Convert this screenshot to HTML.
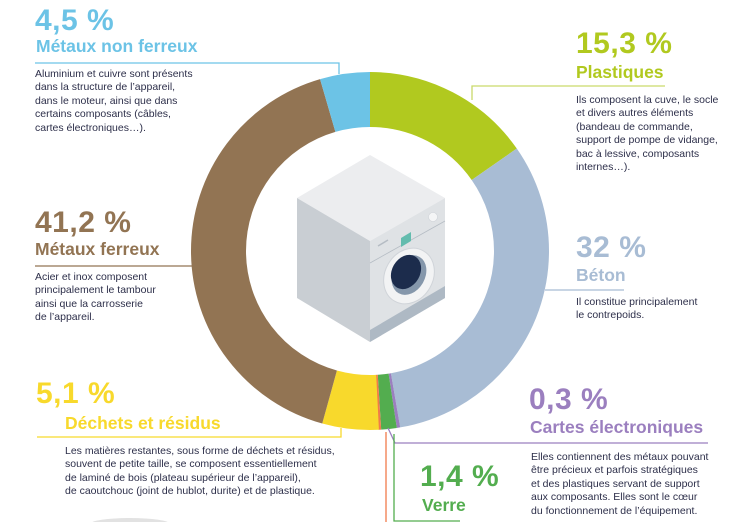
<!DOCTYPE html>
<html><head><meta charset="utf-8"><style>
html,body{margin:0;padding:0;background:#fff}
body{width:741px;height:522px;position:relative;overflow:hidden;font-family:"Liberation Sans",sans-serif}
.t{position:absolute;white-space:nowrap}
.p{font-size:30px;font-weight:bold;letter-spacing:0.5px;line-height:1}
.h{font-size:17.5px;font-weight:bold;line-height:1}
.b{font-size:10.5px;color:#2d2f4a;line-height:13.4px}
</style></head><body>
<svg width="741" height="522" style="position:absolute;left:0;top:0">
<g transform="rotate(-90 370 251)" fill="none" stroke-width="55">
<circle cx="370" cy="251" r="151.5" pathLength="100" stroke="#b1c91f" stroke-dasharray="15.3 84.7" stroke-dashoffset="0"/>
<circle cx="370" cy="251" r="151.5" pathLength="100" stroke="#a8bcd4" stroke-dasharray="32 68" stroke-dashoffset="-15.3"/>
<circle cx="370" cy="251" r="151.5" pathLength="100" stroke="#9b7fbf" stroke-dasharray="0.3 99.7" stroke-dashoffset="-47.3"/>
<circle cx="370" cy="251" r="151.5" pathLength="100" stroke="#53ad4f" stroke-dasharray="1.4 98.6" stroke-dashoffset="-47.6"/>
<circle cx="370" cy="251" r="151.5" pathLength="100" stroke="#f07b4a" stroke-dasharray="0.25 99.75" stroke-dashoffset="-49.0"/>
<circle cx="370" cy="251" r="151.5" pathLength="100" stroke="#f8d92c" stroke-dasharray="5.1 94.9" stroke-dashoffset="-49.2"/>
<circle cx="370" cy="251" r="151.5" pathLength="100" stroke="#927453" stroke-dasharray="41.2 58.8" stroke-dashoffset="-54.3"/>
<circle cx="370" cy="251" r="151.5" pathLength="100" stroke="#6cc3e6" stroke-dasharray="4.5 95.5" stroke-dashoffset="-95.5"/>
</g>
<g fill="none" stroke-width="1.3">
<polyline points="35,63 339,63 339,74" stroke="#6cc3e6"/>
<polyline points="35,266 193,266" stroke="#927453"/>
<polyline points="472,100 472,86 665,86" stroke="#c9d96a"/>
<polyline points="545,290 624,290" stroke="#a8bcd4"/>
<polyline points="37,437 341,437 341,428" stroke="#f8d92c"/>
<polyline points="388,428 395,443 708,443" stroke="#9b7fbf"/>
<polyline points="394,434 394,521 460,521" stroke="#53ad4f"/>
<polyline points="386,432 386,522" stroke="#f07b4a"/>
</g>
<polygon points="370,155 445,198 370,241 297,198" fill="#ecedef"/>
<polygon points="297,198 370,241 370,342 297,298" fill="#c9ced3"/>
<polygon points="370,241 445,198 445,298 370,342" fill="#dfe2e5"/>
<polygon points="370,330 445,286 445,298 370,342" fill="#aeb9c4"/>
<line x1="370" y1="263" x2="445" y2="221" stroke="#b5bcc4" stroke-width="0.8"/>
<polygon points="401,238 411,232 411,241 401,247" fill="#63bcae"/>
<circle cx="433" cy="217" r="4.5" fill="#f4f5f6" stroke="#cfd3d8" stroke-width="0.6"/>
<line x1="378" y1="246" x2="388" y2="240" stroke="#b5bcc4" stroke-width="1.5"/>
<ellipse cx="409" cy="276" rx="24" ry="29" transform="rotate(30 409 276)" fill="#f2f3f4" stroke="#d0d4d9" stroke-width="1"/>
<ellipse cx="409" cy="275" rx="16" ry="21" transform="rotate(30 409 275)" fill="#8597ab"/>
<ellipse cx="406" cy="272" rx="14" ry="18" transform="rotate(30 406 272)" fill="#1c2c4c"/>
<ellipse cx="130" cy="524" rx="40" ry="6" fill="#e2e2e2"/>
</svg>

<div class="t p" style="left:35px;top:6px;color:#6cc3e6">4,5 %</div>
<div class="t h" style="left:36px;top:38px;color:#6cc3e6">Métaux non ferreux</div>
<div class="t b" style="left:35px;top:68px">Aluminium et cuivre sont présents<br>dans la structure de l’appareil,<br>dans le moteur, ainsi que dans<br>certains composants (câbles,<br>cartes électroniques…).</div>

<div class="t p" style="left:35px;top:208px;color:#927453">41,2 %</div>
<div class="t h" style="left:35px;top:241px;color:#927453">Métaux ferreux</div>
<div class="t b" style="left:35px;top:271px">Acier et inox composent<br>principalement le tambour<br>ainsi que la carrosserie<br>de l’appareil.</div>

<div class="t p" style="left:576px;top:29px;color:#b1c91f">15,3 %</div>
<div class="t h" style="left:576px;top:64px;color:#b1c91f">Plastiques</div>
<div class="t b" style="left:576px;top:94px">Ils composent la cuve, le socle<br>et divers autres éléments<br>(bandeau de commande,<br>support de pompe de vidange,<br>bac à lessive, composants<br>internes…).</div>

<div class="t p" style="left:576px;top:233px;color:#a8bcd4">32 %</div>
<div class="t h" style="left:576px;top:267px;color:#a8bcd4">Béton</div>
<div class="t b" style="left:576px;top:296px">Il constitue principalement<br>le contrepoids.</div>

<div class="t p" style="left:36px;top:379px;color:#f8d92c">5,1 %</div>
<div class="t h" style="left:65px;top:415px;color:#f8d92c">Déchets et résidus</div>
<div class="t b" style="left:65px;top:445px">Les matières restantes, sous forme de déchets et résidus,<br>souvent de petite taille, se composent essentiellement<br>de laminé de bois (plateau supérieur de l’appareil),<br>de caoutchouc (joint de hublot, durite) et de plastique.</div>

<div class="t p" style="left:529px;top:385px;color:#9b7fbf">0,3 %</div>
<div class="t h" style="left:530px;top:419px;color:#9b7fbf">Cartes électroniques</div>
<div class="t b" style="left:531px;top:451px">Elles contiennent des métaux pouvant<br>être précieux et parfois stratégiques<br>et des plastiques servant de support<br>aux composants. Elles sont le cœur<br>du fonctionnement de l’équipement.</div>

<div class="t p" style="left:420px;top:462px;color:#53ad4f">1,4 %</div>
<div class="t h" style="left:422px;top:497px;color:#53ad4f">Verre</div>
</body></html>
